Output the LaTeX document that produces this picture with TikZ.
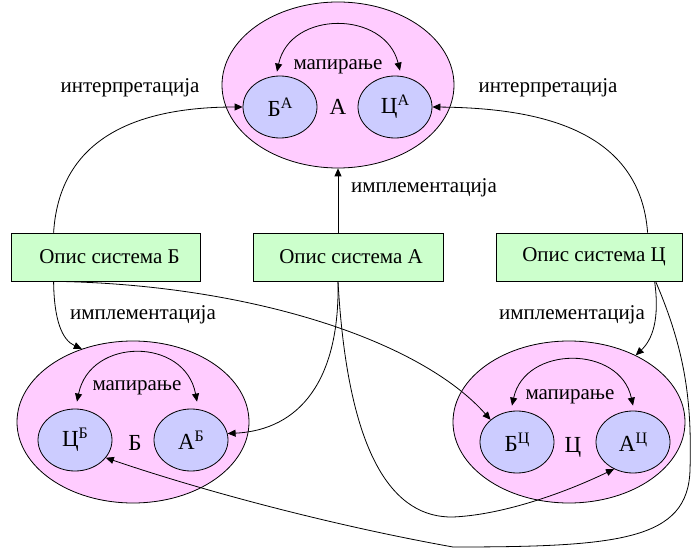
\documentclass[tikz,border=0pt]{standalone}
\usepackage{fontspec}
\setmainfont{Liberation Serif}
\usetikzlibrary{shapes.geometric,arrows.meta,calc}

\definecolor{systemfill}{HTML}{FFCCFF}
\definecolor{viewfill}{HTML}{CCCCFF}
\definecolor{descfill}{HTML}{CCFFCC}

% small raised index for the views
\newcommand\viewidx[1]{\raisebox{8pt}{\fontsize{16}{16}\selectfont #1}}

\tikzset{
  sysshape/.style={ellipse, draw, fill=systemfill, inner sep=0pt,
    minimum width=232pt, minimum height=162pt},
  viewshape/.style={ellipse, draw, fill=viewfill, inner sep=0pt,
    minimum width=74pt, minimum height=62pt, font=\fontsize{23}{24}\selectfont},
  descbox/.style={rectangle, draw, fill=descfill, inner sep=0pt,
    minimum width=188pt, minimum height=48pt, font=\fontsize{21}{24}\selectfont},
  lbl/.style={inner sep=0pt, font=\fontsize{21}{24}\selectfont},
  syslbl/.style={inner sep=0pt, font=\fontsize{23}{24}\selectfont},
  link/.style={-{Triangle[length=8pt,width=7pt]}},
  twoway/.style={{Triangle[length=8pt,width=7pt]}-{Triangle[length=8pt,width=7pt]}},
}

\begin{document}
\begin{tikzpicture}[x=1pt, y=-1pt, line width=0.8pt]
\useasboundingbox (0,0) rectangle (691,548);

% systems
\node[sysshape, minimum height=166pt] (eA) at (338,85) {};
\node[sysshape] (eB) at (133,422) {};
\node[sysshape] (eC) at (569,422) {};

% views inside the systems
\node[viewshape] (BA) at (280,107) {Б\viewidx{А}};
\node[viewshape] (CA) at (395,107) {Ц\viewidx{А}};
\node[viewshape] (CB) at (75,440) {Ц\viewidx{Б}};
\node[viewshape] (AB) at (191,440) {А\viewidx{Б}};
\node[viewshape] (BC) at (517,442) {Б\viewidx{Ц}};
\node[viewshape] (AC) at (633,442) {А\viewidx{Ц}};

\node[syslbl] (nA) at (338,107) {А};
\node[syslbl] (nB) at (135,443) {Б};
\node[syslbl] (nC) at (573,447) {Ц};

\node[lbl] (mA) at (338,67) {мапирање};
\node[lbl] (mB) at (137,388) {мапирање};
\node[lbl] (mC) at (570,397) {мапирање};

% descriptions
\node[descbox, minimum width=189pt] (boxB) at (105.5,257) {\hspace*{8pt}Опис система Б};
\node[descbox, minimum width=190pt] (boxA) at (348,257) {\hspace*{6pt}Опис система А};
\node[descbox, minimum width=186pt] (boxC) at (589,257) {\hspace*{10pt}Опис система Ц};

% edge labels
\node[lbl] (iB) at (130,88) {интерпретација};
\node[lbl] (iC) at (548,88) {интерпретација};
\node[lbl] (pA) at (424,188) {имплементација};
\node[lbl] (pB) at (143,315) {имплементација};
\node[lbl] (pC) at (572,315) {имплементација};

% mappings between views
\draw[twoway] ($(BA.north)+(-3,-4)$) .. controls (290,10) and (385,10) .. ($(CA.north)+(5,-5)$);
\draw[twoway] ($(CB.north)+(2,-7)$) .. controls (90,337) and (185,337) .. ($(AB.north)+(6,-7)$);
\draw[twoway] ($(BC.north)+(-5,-5)$) .. controls (525,345) and (620,345) .. ($(AC.north)+(0,-5)$);

% interpretations
\draw[link] ($(boxB.north west)+(43,0)$) .. controls (60,130) and (150,107) .. (BA.west);
\draw[link] ($(boxC.north west)+(152,0)$) .. controls (640,130) and (540,108) .. (CA.east);

% implementations
\draw[link] (eA.south |- boxA.north) -- (eA.south);
\draw[link] ($(boxB.south west)+(43,0)$) .. controls (54,320) and (62,340) .. (eB.125);
\draw[link] ($(boxC.south west)+(159,0)$) .. controls (660,320) and (652,340) .. (eC.45);

% cross links to the views
\draw[link] ($(boxB.south west)+(47,0)$) .. controls (250,285) and (420,340) .. (BC.140);
\draw[link] (eA.south |- boxA.south) .. controls (340,380) and (300,430) .. (AB.10);
\draw[link] (eA.south |- boxA.south) .. controls (348,460) and (395,518) .. (453,517)
  .. controls (500,515) and (560,495) .. (AC.235);
\draw[link] ($(boxC.south west)+(160,0)$) .. controls (685,350) and (692,400) .. (690,470)
  .. controls (688,540) and (620,547) .. (453,547)
  .. controls (330,525) and (200,490) .. (CB.-30);
\end{tikzpicture}
\end{document}
